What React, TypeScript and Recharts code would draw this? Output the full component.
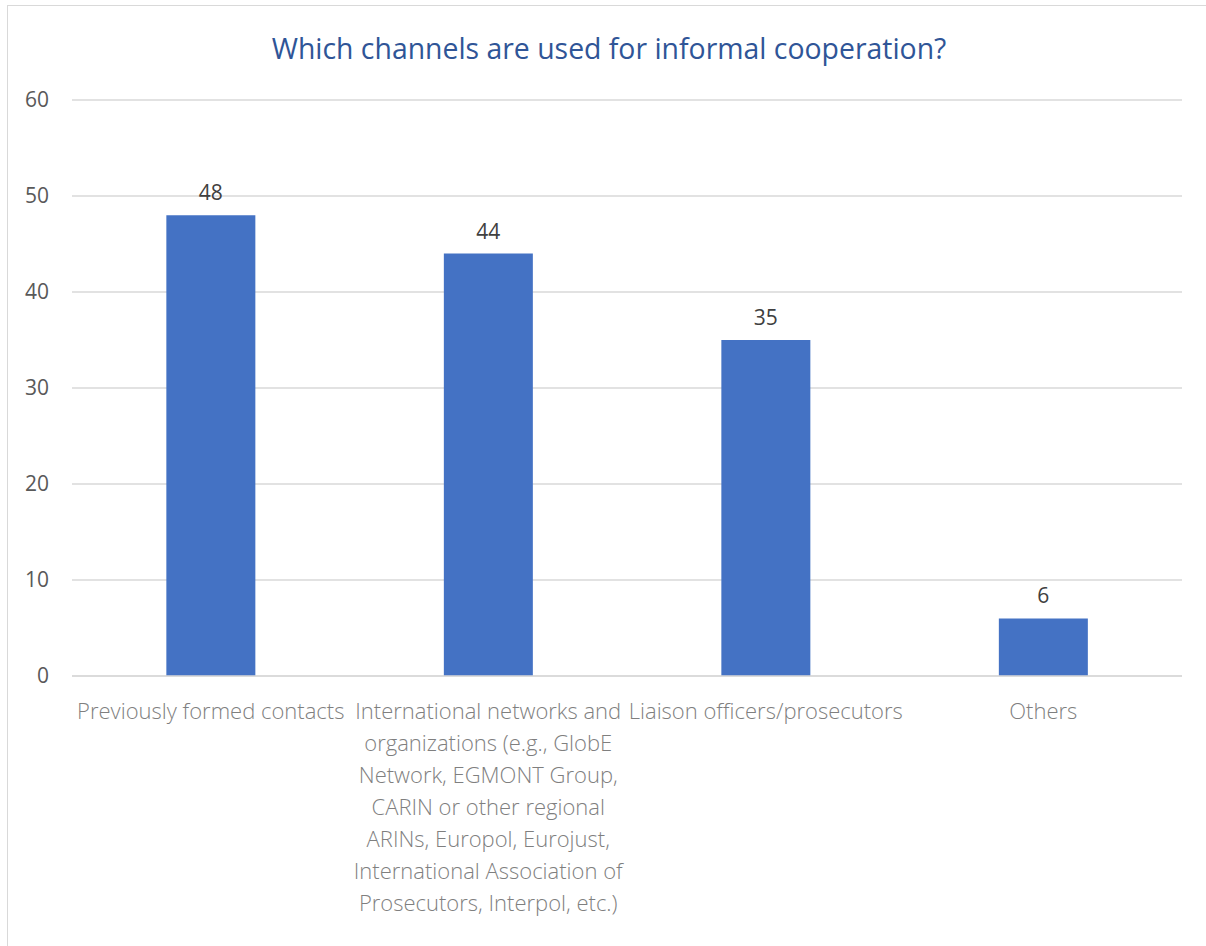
import React from "react";
import { BarChart, Bar, XAxis, YAxis, CartesianGrid, LabelList } from "recharts";

const title = "Which channels are used for informal cooperation?";
const categories = [
  "Previously formed contacts",
  "International networks and organizations (e.g., GlobE Network, EGMONT Group, CARIN or other regional ARINs, Europol, Eurojust, International Association of Prosecutors, Interpol, etc.)",
  "Liaison officers/prosecutors",
  "Others",
];
const counts = [48, 44, 35, 6];
const tickLabelLines = [
  ["Previously formed contacts"],
  [
    "International networks and",
    "organizations (e.g., GlobE",
    "Network, EGMONT Group,",
    "CARIN or other regional",
    "ARINs, Europol, Eurojust,",
    "International Association of",
    "Prosecutors, Interpol, etc.)",
  ],
  ["Liaison officers/prosecutors"],
  ["Others"],
];
const yTicks = [0, 10, 20, 30, 40, 50, 60];

const data = categories.map((c, i) => ({ category: c, value: counts[i], idx: i }));

const FONT = "'Open Sans', 'Noto Sans', sans-serif";

const CategoryTick = (props: any) => {
  const { x, y, index } = props;
  const lines = tickLabelLines[index] || [];
  return (
    <g transform={`translate(${x},${y})`}>
      <text textAnchor="middle" fill="#7F7F7F" fontFamily={FONT} fontWeight={300} fontSize={22}>
        {lines.map((l, i) => (
          <tspan key={i} x={0} y={i * 32} dy="0.35em">
            {l}
          </tspan>
        ))}
      </text>
    </g>
  );
};

export default function App() {
  return (
    <div style={{ position: "absolute", left: 0, top: 0, width: 1206, height: 946, background: "#fff", overflow: "hidden" }}>
      <div
        style={{
          position: "absolute",
          left: 7,
          top: 5,
          width: 1220,
          height: 960,
          border: "1.5px solid #D9D9D9",
          boxSizing: "border-box",
        }}
      />
      <div
        style={{
          position: "absolute",
          left: 0,
          top: 28,
          width: 1218,
          textAlign: "center",
          fontFamily: FONT,
          fontSize: 28.4,
          color: "#2F5597",
          lineHeight: "40px",
        }}
      >
        {title}
      </div>
      <div style={{ position: "absolute", left: 0, top: 0 }}>
        <BarChart
          width={1206}
          height={946}
          data={data}
          margin={{ top: 100, right: 24, bottom: 0, left: 0 }}
          barCategoryGap="34%"
        >
          <CartesianGrid vertical={false} stroke="#D9D9D9" strokeWidth={1.5} />
          <XAxis
            dataKey="category"
            axisLine={{ stroke: "#D9D9D9", strokeWidth: 1.5 }}
            tickLine={false}
            height={270}
            interval={0}
            tick={<CategoryTick />}
            tickSize={0}
            tickMargin={35}
          />
          <YAxis
            domain={[0, 60]}
            ticks={yTicks}
            width={72}
            axisLine={false}
            tickLine={false}
            tickSize={0}
            tickMargin={23}
            tick={{ fill: "#595959", fontSize: 21, fontFamily: FONT }}
          />
          <Bar dataKey="value" fill="#4472C4" isAnimationActive={false}>
            <LabelList
              dataKey="value"
              position="top"
              offset={15}
              fill="#404040"
              fontSize={21}
              fontFamily={FONT}
            />
          </Bar>
        </BarChart>
      </div>
    </div>
  );
}
